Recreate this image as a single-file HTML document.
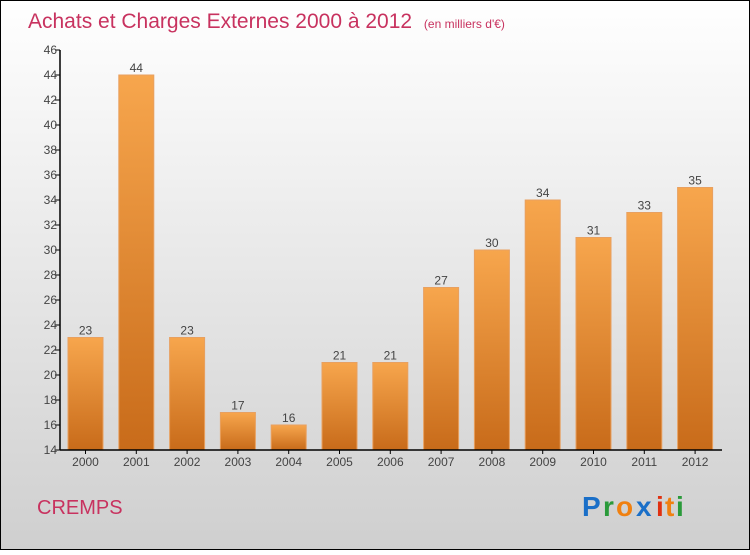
<!DOCTYPE html>
<html><head><meta charset="utf-8"><style>
body{margin:0}
svg text{font-family:"Liberation Sans",sans-serif}
</style></head><body>
<svg width="750" height="550" viewBox="0 0 750 550" xmlns="http://www.w3.org/2000/svg">
<defs>
<linearGradient id="bg" x1="0" y1="0" x2="0" y2="1"><stop offset="0" stop-color="#ffffff"/><stop offset="1" stop-color="#cfcfcf"/></linearGradient>
<linearGradient id="bar" x1="0" y1="0" x2="0" y2="1"><stop offset="0" stop-color="#f7a64d"/><stop offset="1" stop-color="#c86b1a"/></linearGradient>
</defs>
<rect x="0.5" y="0.5" width="749" height="549" fill="url(#bg)" stroke="#000"/>
<text x="28" y="28" font-size="21" fill="#c8325f">Achats et Charges Externes 2000 à 2012 <tspan font-size="12" dx="6">(en milliers d'€)</tspan></text>
<g id="yaxis"></g>
<g id="bars"></g>
<g id="xaxis"></g>
<text x="37" y="514" font-size="20" fill="#c8325f">CREMPS</text>
<g font-size="28" font-weight="bold" font-family="Liberation Sans">
<text x="582" y="516" fill="#1a6fc8">P</text><text x="603" y="516" fill="#2a9a3a">r</text><text x="616" y="516" fill="#f08010">o</text><text x="636" y="516" fill="#1a6fc8">x</text><text x="656" y="516" fill="#e03010">i</text><text x="665" y="516" fill="#f08010">t</text><text x="676" y="516" fill="#2a9a3a">i</text>
</g>
</svg>
<script>
const years=["2000","2001","2002","2003","2004","2005","2006","2007","2008","2009","2010","2011","2012"];
const values=[23,44,23,17,16,21,21,27,30,34,31,33,35];
const yTicks=[14,16,18,20,22,24,26,28,30,32,34,36,38,40,42,44,46];
const NS="http://www.w3.org/2000/svg";
const x0=60,x1=722,yTop=50,yBot=450,vMin=14,vMax=46;
const y=v=>yBot-(v-vMin)/(vMax-vMin)*(yBot-yTop);
const step=50.8,cx=i=>85.5+i*step,bw=35;
function mk(t,a,p){const e=document.createElementNS(NS,t);for(const k in a)e.setAttribute(k,a[k]);p.appendChild(e);return e;}
const ya=document.getElementById('yaxis'),xa=document.getElementById('xaxis'),bg=document.getElementById('bars');
values.forEach((v,i)=>{
 const r=mk('rect',{x:cx(i)-bw/2,y:y(v),width:bw,height:yBot-y(v),fill:'url(#bar)',stroke:'#e8a060','stroke-width':1},bg);
 
 
 const t=mk('text',{x:cx(i),y:y(v)-3,'text-anchor':'middle','font-size':12,fill:'#444'},bg);t.textContent=v;
 
 
 const xl=mk('text',{x:cx(i),y:466,'text-anchor':'middle','font-size':12,fill:'#444'},xa);xl.textContent=years[i];
 
 
 mk('line',{x1:cx(i),x2:cx(i),y1:450,y2:454,stroke:'#000'},xa);
});
mk('line',{x1:x0,x2:x0,y1:yTop,y2:yBot,stroke:'#000','stroke-width':1.5},ya);
mk('line',{x1:x0,x2:x1,y1:yBot,y2:yBot,stroke:'#000','stroke-width':1.5},xa);
yTicks.forEach(v=>{
 mk('line',{x1:x0-5,x2:x0,y1:y(v),y2:y(v),stroke:'#000'},ya);
 const t=mk('text',{x:x0-3,y:y(v)+4,'text-anchor':'end','font-size':12,fill:'#444'},ya);t.textContent=v;
 
 
});
</script>
</body></html>
